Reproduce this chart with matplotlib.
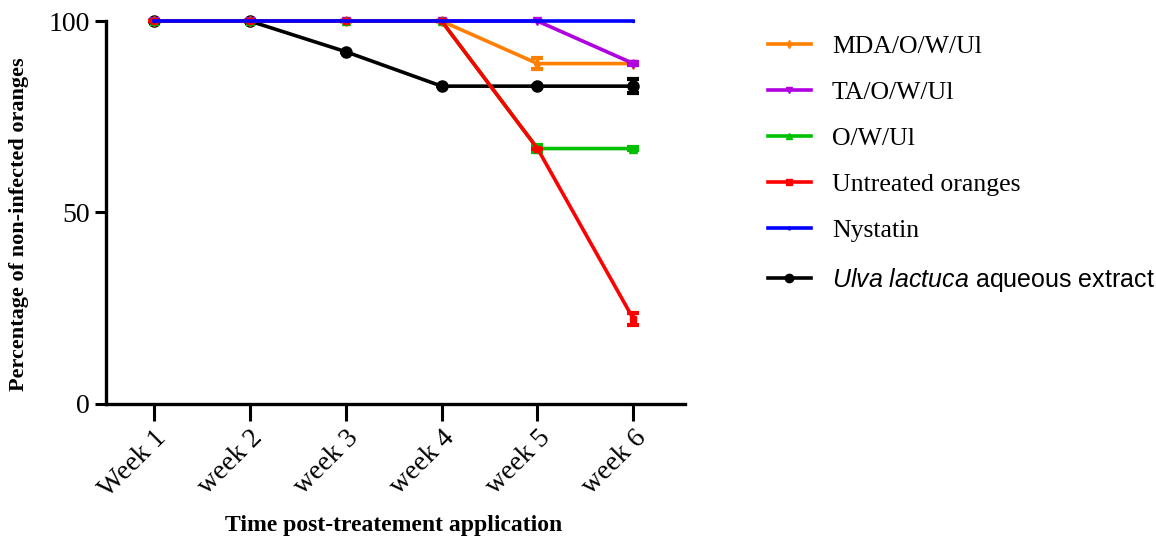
import matplotlib.pyplot as plt
from matplotlib.lines import Line2D
import numpy as np

plt.rcParams['font.family'] = ['Liberation Serif', 'DejaVu Serif']
plt.rcParams['mathtext.fontset'] = 'custom'
plt.rcParams['mathtext.it'] = 'Liberation Sans:italic'
plt.rcParams['mathtext.rm'] = 'Liberation Sans'

weeks = ['Week 1', 'week 2', 'week 3', 'week 4', 'week 5', 'week 6']

mda = [100, 100, 100, 100, 88.9, 88.9]
mda_err = [0, 0, 0, 0, 1.5, 0]
ta = [100, 100, 100, 100, 100, 88.9]
ta_err = [0, 0, 0, 0, 0, 0.5]
owul = [100, 100, 100, 100, 66.7, 66.7]
owul_err = [0, 0, 0, 0, 0.8, 0.5]
untreated = [100, 100, 100, 100, 66.7, 22.2]
untreated_err = [0, 0, 0, 0, 0, 1.5]
nystatin = [100, 100, 100, 100, 100, 100]
ulva = [100, 100, 92, 83, 83, 83]
ulva_err = [0, 0, 0, 0, 0, 1.8]

x = np.arange(1, len(weeks) + 1)

fig = plt.figure(figsize=(11.56, 5.4), dpi=100)
ax = fig.add_axes([0.0917, 0.252, 0.501, 0.709])

lw = 2.6
ulva_lab = r'$\it{Ulva\ lactuca}$ aqueous extract'
# (values, error, colour, marker, size, label, zorder)
series = [
    (ulva, ulva_err, 'black', 'o', 8, ulva_lab, 2),
    (mda, mda_err, '#ff8000', 'd', 5, 'MDA/O/W/Ul', 4),
    (ta, ta_err, '#b000e0', 'v', 6, 'TA/O/W/Ul', 5),
    (owul, owul_err, '#00c000', '^', 6, 'O/W/Ul', 6),
    (untreated, untreated_err, '#ff0000', 's', 4, 'Untreated oranges', 6.5),
    (nystatin, None, '#0000ff', '.', 3, 'Nystatin', 7),
]
handles = {}
for vals, err, col, mk, ms, lab, z in series:
    ax.errorbar(x, vals, yerr=err, color=col, marker=mk, markersize=ms,
                linewidth=lw, capsize=4, capthick=3, elinewidth=2,
                zorder=z, clip_on=False)
    handles[lab] = Line2D([], [], color=col, marker=mk, markersize=max(ms - 2, 4),
                          linewidth=lw)

order = ['MDA/O/W/Ul', 'TA/O/W/Ul', 'O/W/Ul', 'Untreated oranges', 'Nystatin', ulva_lab]
leg = fig.legend([handles[k] for k in order], order, loc='upper left',
                 bbox_to_anchor=(0.644, 0.978), frameon=False, fontsize=18.5,
                 labelspacing=0.9, handlelength=1.7, handletextpad=0.8)
leg.get_texts()[5].set_fontfamily('Liberation Sans')
leg.get_texts()[5].set_fontsize(18)

ax.set_ylim(0, 100)
ax.set_xlim(0.5, 6.54)
ax.set_yticks([0, 50, 100])
ax.set_xticks(x)
ax.set_xticklabels(weeks, rotation=45, ha='right', rotation_mode='anchor')
ax.tick_params(axis='both', labelsize=20, width=2.2, direction='out')
ax.tick_params(axis='y', length=8)
ax.tick_params(axis='x', length=12)
for s in ['top', 'right']:
    ax.spines[s].set_visible(False)
for s in ['left', 'bottom']:
    ax.spines[s].set_linewidth(2.4)

ax.set_ylabel('Percentage of non-infected oranges', fontsize=16, fontweight='bold')
ax.yaxis.set_label_coords(-0.133, 0.47)
ax.set_xlabel('Time post-treatement application', fontsize=17, fontweight='bold')
ax.xaxis.set_label_coords(0.497, -0.29)

fig.savefig('out.png', dpi=100)
